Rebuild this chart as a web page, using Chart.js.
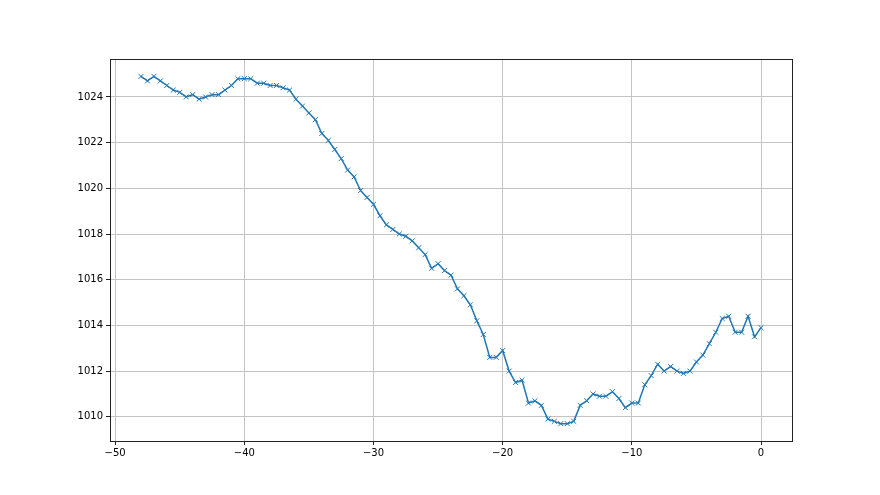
<!DOCTYPE html>
<html>
<head>
<meta charset="utf-8">
<script src="https://cdn.jsdelivr.net/npm/chart.js@4"></script>
<style>
html,body{margin:0;padding:0;background:#fff;}
canvas{display:block;}
</style>
</head>
<body>
<canvas id="c" width="880" height="495"></canvas>
<script>
const xValues = [-48,-47.5,-47,-46.5,-46,-45.5,-45,-44.5,-44,-43.5,-43,-42.5,-42,-41.5,-41,-40.5,-40,-39.5,-39,-38.5,-38,-37.5,-37,-36.5,-36,-35.5,-35,-34.5,-34,-33.5,-33,-32.5,-32,-31.5,-31,-30.5,-30,-29.5,-29,-28.5,-28,-27.5,-27,-26.5,-26,-25.5,-25,-24.5,-24,-23.5,-23,-22.5,-22,-21.5,-21,-20.5,-20,-19.5,-19,-18.5,-18,-17.5,-17,-16.5,-16,-15.5,-15,-14.5,-14,-13.5,-13,-12.5,-12,-11.5,-11,-10.5,-10,-9.5,-9,-8.5,-8,-7.5,-7,-6.5,-6,-5.5,-5,-4.5,-4,-3.5,-3,-2.5,-2,-1.5,-1,-0.5,0];
const pressure = [1024.9,1024.7,1024.9,1024.7,1024.5,1024.3,1024.2,1024.0,1024.1,1023.9,1024.0,1024.1,1024.1,1024.3,1024.5,1024.8,1024.8,1024.8,1024.6,1024.6,1024.5,1024.5,1024.4,1024.3,1023.9,1023.6,1023.3,1023.0,1022.4,1022.1,1021.7,1021.3,1020.8,1020.5,1019.9,1019.6,1019.3,1018.8,1018.4,1018.2,1018.0,1017.9,1017.7,1017.4,1017.1,1016.5,1016.7,1016.4,1016.2,1015.6,1015.3,1014.9,1014.2,1013.6,1012.6,1012.6,1012.9,1012.0,1011.5,1011.6,1010.6,1010.7,1010.5,1009.9,1009.8,1009.7,1009.7,1009.8,1010.5,1010.7,1011.0,1010.9,1010.9,1011.1,1010.8,1010.4,1010.6,1010.6,1011.4,1011.8,1012.3,1012.0,1012.2,1012.0,1011.9,1012.0,1012.4,1012.7,1013.2,1013.7,1014.3,1014.4,1013.7,1013.7,1014.4,1013.5,1013.9];
const xTicks = [-50,-40,-30,-20,-10,0];
const yTicks = [1010,1012,1014,1016,1018,1020,1022,1024];

const points = xValues.map((x,i)=>({x:x, y:pressure[i]}));

const frame = {
  id:'frame',
  afterDraw(chart){
    const a = chart.chartArea, ctx = chart.ctx;
    ctx.save();
    ctx.strokeStyle = '#222';
    ctx.lineWidth = 1;
    ctx.strokeRect(Math.round(a.left)+0.5, Math.round(a.top)+0.5, Math.round(a.right-a.left), Math.round(a.bottom-a.top));
    ctx.restore();
  }
};

const fmt = v => String(v).replace('-', '\u2212');

new Chart(document.getElementById('c'), {
  type:'line',
  data:{datasets:[{
    data: points,
    borderColor:'#1f77b4',
    backgroundColor:'#1f77b4',
    borderWidth:1.5,
    pointStyle:'crossRot',
    pointRadius:3.5,
    pointBorderWidth:1,
    pointBorderColor:'#1f77b4',
    pointHoverRadius:3.5,
    tension:0,
    fill:false
  }]},
  options:{
    responsive:false,
    animation:false,
    devicePixelRatio:1,
    layout:{padding:{left:0,right:88,top:59,bottom:0}},
    plugins:{legend:{display:false},tooltip:{enabled:false}},
    scales:{
      x:{
        type:'linear',
        min:-50.4, max:2.4,
        afterBuildTicks: ax => { ax.ticks = xTicks.map(v=>({value:v})); },
        afterFit: ax => { ax.height = 54; },
        grid:{color:'#c4c4c4', lineWidth:1, tickColor:'#222', tickLength:4, drawTicks:true},
        border:{display:false},
        ticks:{color:'#000', font:{family:'DejaVu Sans', size:10}, padding:2, maxRotation:0, autoSkip:false, callback: v => fmt(v)}
      },
      y:{
        type:'linear',
        min:1008.94, max:1025.66,
        afterBuildTicks: ax => { ax.ticks = yTicks.map(v=>({value:v})); },
        afterFit: ax => { ax.width = 110; },
        grid:{color:'#c4c4c4', lineWidth:1, tickColor:'#222', tickLength:4, drawTicks:true},
        border:{display:false},
        ticks:{color:'#000', font:{family:'DejaVu Sans', size:10}, padding:3, autoSkip:false, callback: v => fmt(v)}
      }
    }
  },
  plugins:[frame]
});
</script>
</body>
</html>
